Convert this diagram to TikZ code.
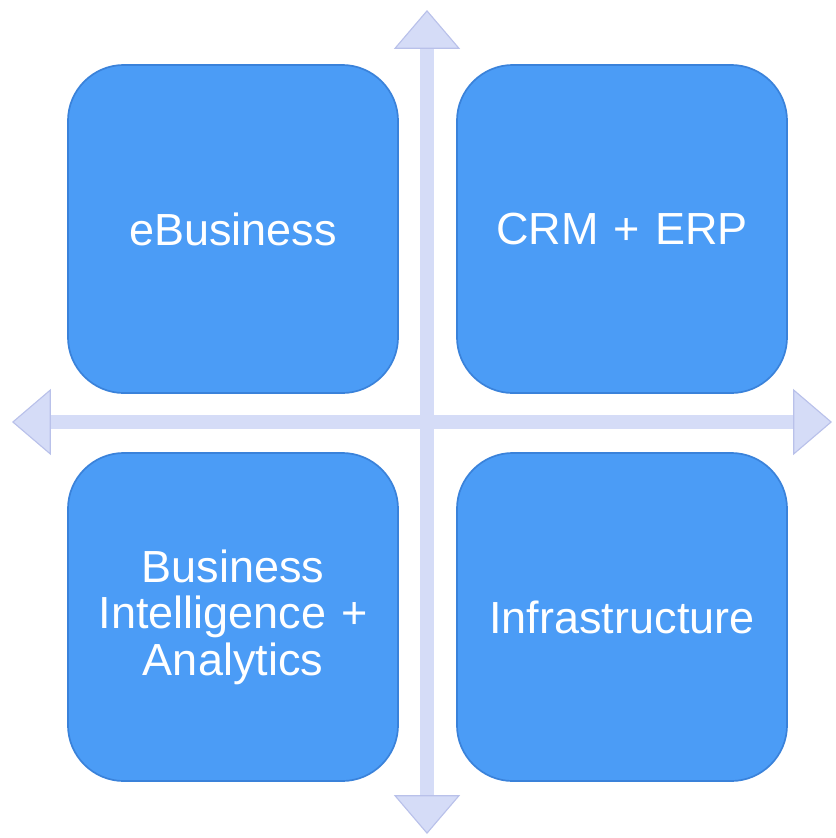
\documentclass[tikz,border=0pt]{standalone}
\usepackage{fontspec}
\setmainfont{Liberation Sans}
\usetikzlibrary{arrows.meta}
\definecolor{TileBlue}{HTML}{4B9CF6}
\definecolor{TileEdge}{HTML}{3A82DA}
\definecolor{AxisLilac}{HTML}{D5DCF7}
\definecolor{AxisEdge}{HTML}{B9C1EA}

\begin{document}
\begin{tikzpicture}[x=0.025cm,y=-0.025cm,
  tile/.style={draw=TileEdge,line width=1.2pt,fill=TileBlue,
    rounded corners=1.4cm,minimum width=8.25cm,minimum height=8.2cm,
    text width=7.8cm,align=center,inner sep=0pt,text=white,
    font=\fontsize{32}{33}\selectfont},
  axishead/.tip={Triangle[width=1.65cm,length=0.97cm,line width=0.8pt,
    color=AxisEdge,fill=AxisLilac]},
  axis/.style={AxisLilac,line width=0.34cm,{axishead}-{axishead}}]
  \path[use as bounding box] (0,0) rectangle (836,838);
  \node[tile] (ebiz)  at (233,229) {eBusiness};
  \node[tile] (crm)   at (622,229) {CRM + ERP};
  \node[tile] (bi)    at (233,617) {Business\\Intelligence +\\Analytics};
  \node[tile] (infra) at (622,617) {Infrastructure};
  \coordinate (N) at (427,10);  \coordinate (S) at (427,834);
  \coordinate (W) at (12,422);  \coordinate (E) at (832,422);
  \draw[axis] (W) -- (E);
  \draw[axis] (S) -- (N);
\end{tikzpicture}
\end{document}
